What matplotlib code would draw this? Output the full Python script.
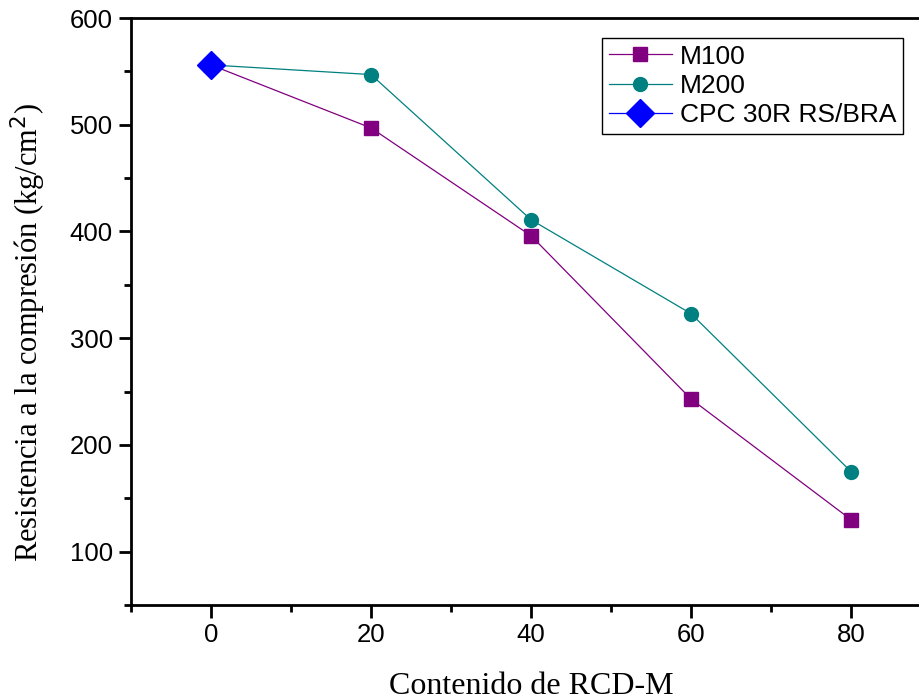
import matplotlib
matplotlib.use("Agg")
import matplotlib.pyplot as plt
from matplotlib.ticker import MultipleLocator

# RCD-M content (%) and compressive strength (kg/cm2)
contenido = [0, 20, 40, 60, 80]
m100 = [556, 497, 396, 243, 130]
m200 = [556, 547, 411, 323, 175]
cpc_x = [0]
cpc = [556]

plt.rcParams['font.family'] = ['Liberation Sans', 'DejaVu Sans']

fig = plt.figure(figsize=(9.2, 7.0), dpi=100)
# axes run a little past the right edge, so the right spine is cut off
ax = fig.add_axes([131/920, 95/700, 800/920, 587/700])

ax.plot(contenido, m100, color='#800080', lw=0.9, marker='s', ms=9.5,
        label='M100')
ax.plot(contenido, m200, color='#008080', lw=0.9, marker='o', ms=10,
        label='M200')
ax.plot(cpc_x, cpc, color='#0000FF', lw=0.9, marker='D', ms=14,
        label='CPC 30R RS/BRA', zorder=3)

ax.set_xlim(-10, 90)
ax.set_ylim(50, 600)
ax.xaxis.set_major_locator(MultipleLocator(20))
ax.xaxis.set_minor_locator(MultipleLocator(10))
ax.yaxis.set_major_locator(MultipleLocator(100))
ax.yaxis.set_minor_locator(MultipleLocator(50))
ax.set_yticks([100, 200, 300, 400, 500, 600])

for s in ax.spines.values():
    s.set_linewidth(2)
ax.tick_params(which='major', direction='out', length=9, width=2,
               labelsize=18.5, pad=4)
ax.tick_params(which='minor', direction='out', length=5, width=2)

ax.set_xlabel('Contenido de RCD-M', family='Liberation Serif', fontsize=23,
              labelpad=18)
ax.set_ylabel('Resistencia a la compresión (kg/cm$^2$)',
              family='Liberation Serif', fontsize=22)
ax.yaxis.set_label_coords(-0.104, 0.465)

leg = ax.legend(loc='upper left', bbox_to_anchor=(602/920, 1 - 38/700),
                bbox_transform=fig.transFigure, fontsize=19, frameon=True,
                fancybox=False, edgecolor='black', framealpha=1,
                handlelength=2.4, handletextpad=0.3, labelspacing=0.2,
                borderpad=0.25, borderaxespad=0)
leg.get_frame().set_linewidth(1)

fig.savefig('out.png', dpi=100)
